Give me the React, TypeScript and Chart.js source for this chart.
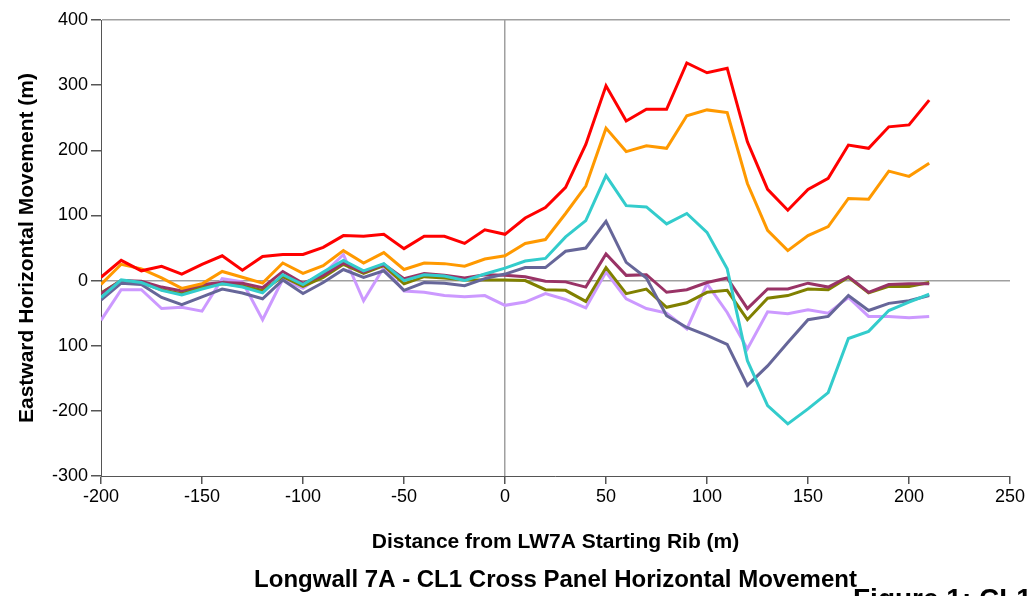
import React, { useEffect, useRef } from "react";
import { Chart, registerables } from "chart.js";

Chart.register(...registerables);

const distances = [-200, -190, -180, -170, -160, -150, -140, -130, -120, -110, -100, -90, -80, -70, -60, -50, -40, -30, -20, -10, 0, 10, 20, 30, 40, 50, 60, 70, 80, 90, 100, 110, 120, 130, 140, 150, 160, 170, 180, 190, 200, 210];

const redSeries = [5, 31, 15, 22, 10, 25, 38, 16, 37, 40, 40, 51, 69, 68, 71, 49, 68, 68, 57, 78, 71, 96, 112, 143, 209, 299, 245, 263, 263, 334, 319, 326, 213, 140, 108, 140, 157, 208, 203, 236, 239, 277];
const orangeSeries = [-6, 25, 18, 4, -12, -5, 14, 5, -4, 27, 11, 23, 46, 27, 43, 17, 27, 26, 22, 33, 38, 57, 63, 103, 145, 234, 198, 207, 203, 253, 262, 258, 149, 77, 46, 69, 83, 126, 125, 168, 160, 180];
const turquoiseSeries = [-26, 1, -3, -15, -22, -13, -5, -10, -19, 9, -6, 13, 31, 15, 26, 0, 9, 7, 0, 10, 19, 30, 34, 67, 92, 161, 115, 113, 87, 103, 74, 18, -123, -192, -220, -197, -172, -89, -78, -46, -33, -21];
const slateSeries = [-30, -4, -6, -26, -37, -25, -13, -19, -28, 1, -20, -3, 17, 5, 15, -15, -3, -4, -8, 3, 10, 20, 20, 45, 50, 91, 28, 4, -54, -72, -84, -98, -161, -131, -95, -60, -55, -23, -46, -35, -31, -23];
const maroonSeries = [-20, 0, -1, -10, -16, -6, -3, -4, -11, 14, -4, 8, 27, 13, 25, 3, 11, 8, 4, 9, 8, 6, -1, -2, -10, 41, 8, 9, -18, -14, -3, 4, -43, -13, -13, -4, -10, 6, -18, -6, -5, -5];
const oliveSeries = [-19, 0, -3, -14, -20, -9, -5, -8, -15, 6, -9, 5, 25, 11, 23, -5, 6, 4, 1, 1, 1, 0, -14, -15, -32, 20, -20, -13, -41, -34, -18, -15, -60, -27, -23, -13, -14, 5, -19, -9, -9, -3];
const lavenderSeries = [-61, -14, -14, -43, -41, -47, 3, -2, -60, 2, -12, 10, 40, -31, 20, -16, -18, -23, -25, -23, -38, -33, -20, -29, -42, 13, -28, -43, -50, -74, -5, -49, -105, -48, -51, -45, -50, -26, -55, -55, -57, -55];

const xTicks = [-200, -150, -100, -50, 0, 50, 100, 150, 200, 250];
const yTickLabels: Record<string, string> = { "400": "400", "300": "300", "200": "200", "100": "100", "0": "0", "-100": "100", "-200": "-200", "-300": "-300" };

const chartTitle = "Longwall 7A - CL1 Cross Panel Horizontal Movement";
const xTitle = "Distance from LW7A Starting Rib (m)";
const yTitle = "Eastward Horizontal Movement (m)";
const figureNote = "Figure 1: CL1";

const seriesList = [
  { name: "S1", values: redSeries, color: "#FF0000" },
  { name: "S2", values: orangeSeries, color: "#FF9900" },
  { name: "S3", values: turquoiseSeries, color: "#33CCCC" },
  { name: "S4", values: slateSeries, color: "#666699" },
  { name: "S5", values: maroonSeries, color: "#993366" },
  { name: "S6", values: oliveSeries, color: "#808000" },
  { name: "S7", values: lavenderSeries, color: "#CC99FF" },
];

const FONT = "'Liberation Sans', Arial, sans-serif";

const bottomTitlePlugin = {
  id: "bottomTitle",
  afterDraw(chart: any) {
    const { ctx, chartArea } = chart;
    ctx.save();
    ctx.font = `bold 24px ${FONT}`;
    ctx.fillStyle = "#000";
    ctx.textAlign = "center";
    ctx.textBaseline = "middle";
    ctx.fillText(chartTitle, (chartArea.left + chartArea.right) / 2, 580);
    ctx.restore();
  },
};

export default function App() {
  const ref = useRef<HTMLCanvasElement | null>(null);

  useEffect(() => {
    if (!ref.current) return;
    const chart = new Chart(ref.current, {
      type: "line",
      data: {
        datasets: seriesList.map((s) => ({
          label: s.name,
          data: distances.map((d, i) => ({ x: d, y: s.values[i] })),
          borderColor: s.color,
          backgroundColor: s.color,
          borderWidth: 3,
          pointRadius: 0,
          tension: 0,
          fill: false,
        })),
      },
      plugins: [bottomTitlePlugin],
      options: {
        responsive: false,
        animation: false,
        layout: { padding: { top: 20, right: 19, left: 0, bottom: 32 } },
        plugins: {
          legend: { display: false },
          tooltip: { enabled: false },
          title: { display: false },
        },
        scales: {
          x: {
            type: "linear",
            min: -200,
            max: 250,
            afterBuildTicks: (s: any) => {
              s.ticks = xTicks.map((v) => ({ value: v }));
            },
            afterFit: (s: any) => {
              s.height = 88;
            },
            ticks: {
              color: "#000",
              font: { family: FONT, size: 18 },
              padding: 2,
              maxRotation: 0,
              autoSkip: false,
            },
            grid: {
              color: (ctx: any) => (ctx.tick && ctx.tick.value === 0 ? "#A0A0A0" : "rgba(0,0,0,0)"),
              lineWidth: 1.5,
              tickColor: "#555555",
              tickLength: 8,
            },
            border: { color: "#555555", width: 1 },
            title: {
              display: true,
              text: xTitle,
              color: "#000",
              font: { family: FONT, size: 21, weight: "bold" },
              padding: { top: 0, bottom: 9 },
            },
          },
          y: {
            type: "linear",
            min: -300,
            max: 400,
            afterFit: (s: any) => {
              s.width = 101;
            },
            ticks: {
              stepSize: 100,
              color: "#000",
              font: { family: FONT, size: 18 },
              padding: 3,
              callback: (v: any) => yTickLabels[String(v)] ?? String(v),
            },
            grid: {
              color: (ctx: any) =>
                ctx.tick && (ctx.tick.value === 0 || ctx.tick.value === 400) ? "#A0A0A0" : "rgba(0,0,0,0)",
              lineWidth: 1.5,
              tickColor: "#555555",
              tickLength: 10,
            },
            border: { color: "#555555", width: 1 },
            title: {
              display: true,
              text: yTitle,
              color: "#000",
              font: { family: FONT, size: 21, weight: "bold" },
              padding: { top: 15, bottom: 0 },
            },
          },
        },
      },
    } as any);
    return () => chart.destroy();
  }, []);

  return (
    <div style={{ position: "fixed", left: 0, top: 0, width: 1029, height: 596, overflow: "hidden", background: "#fff" }}>
      <canvas ref={ref} width={1029} height={596} style={{ display: "block" }} />
      <div
        style={{
          position: "absolute",
          left: 853,
          top: 583,
          fontFamily: FONT,
          fontWeight: "bold",
          fontSize: 28,
          lineHeight: "32px",
          whiteSpace: "nowrap",
          color: "#000",
        }}
      >
        {figureNote}
      </div>
    </div>
  );
}
